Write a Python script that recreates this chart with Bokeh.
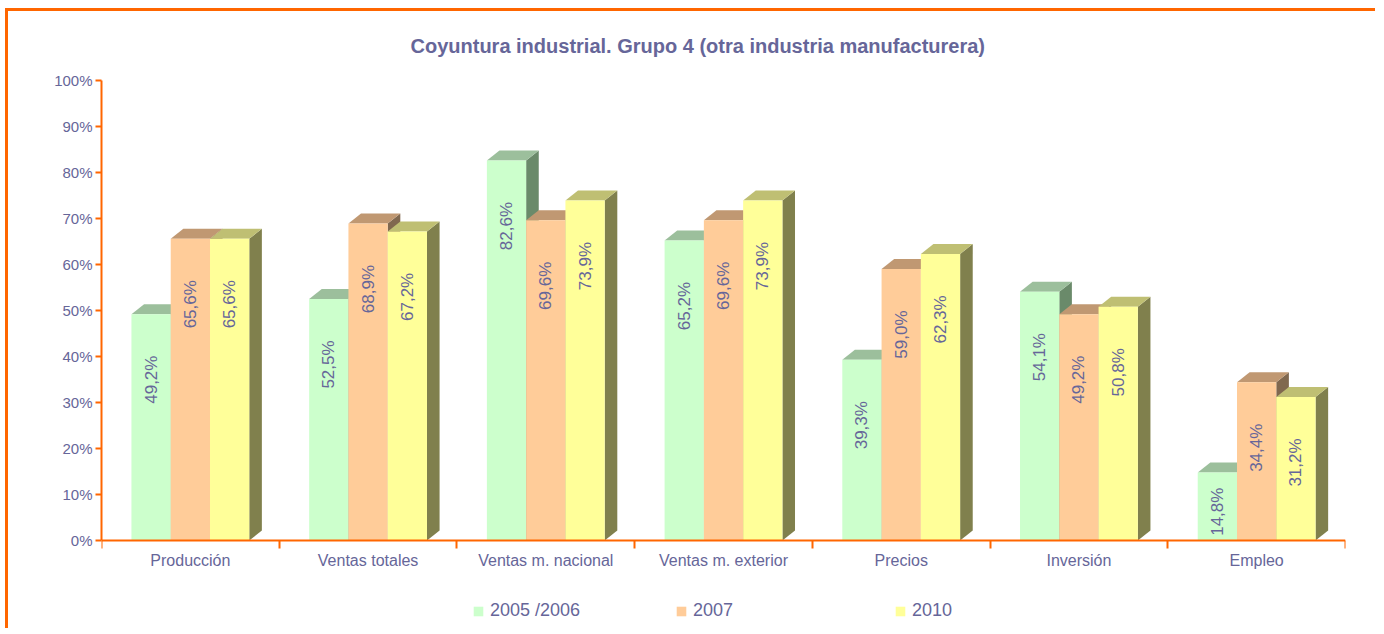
from bokeh.plotting import figure
from bokeh.models import FixedTicker, Legend, LegendItem, Range1d, ColumnDataSource
from bokeh.core.properties import value
from bokeh.embed import file_html
from bokeh.resources import INLINE

categories = ["Producción", "Ventas totales", "Ventas m. nacional", "Ventas m. exterior",
              "Precios", "Inversión", "Empleo"]
s2005 = [49.2, 52.5, 82.6, 65.2, 39.3, 54.1, 14.8]
s2007 = [65.6, 68.9, 69.6, 69.6, 59.0, 49.2, 34.4]
s2010 = [65.6, 67.2, 73.9, 73.9, 62.3, 50.8, 31.2]
series_names = ["2005 /2006", "2007", "2010"]
yticks = list(range(0, 101, 10))
ytick_labels = [f"{t}%" for t in yticks]

series = [s2005, s2007, s2010]
front_colors = ["#CCFFCC", "#FFCC99", "#FFFF99"]
top_colors = ["#9CBF9C", "#C09872", "#BFBF73"]
side_colors = ["#6A8A6A", "#80684F", "#80804D"]

TXT = "#666699"
AX = "#FF6600"
FONT = "Liberation Sans"

PX_PER_PCT = 4.6
y_low = -(91 / PX_PER_PCT)   # room below the axis for labels and legend

p = figure(width=1370, height=620, output_backend="svg", toolbar_location=None,
           x_range=Range1d(-0.5, len(categories) - 0.5), y_range=Range1d(y_low, 100),
           min_border_left=93, min_border_right=33, min_border_top=69, min_border_bottom=0,
           styles={"border-top": "3px solid #FF6600", "border-left": "3px solid #FF6600",
                   "margin-left": "5px", "margin-top": "8px"})
p.outline_line_color = None
p.grid.visible = False
p.background_fill_color = "white"

p.title.text = "Coyuntura industrial. Grupo 4 (otra industria manufacturera)"
p.title.align = "left"
p.title.offset = 309
p.title.standoff = 44
p.title.vertical_align = "top"
p.title.text_font = FONT
p.title.text_font_size = "20px"
p.title.text_font_style = "bold"
p.title.text_color = TXT

# axes
p.yaxis.ticker = FixedTicker(ticks=yticks)
p.yaxis.major_label_overrides = {t: l for t, l in zip(yticks, ytick_labels)}
p.yaxis.bounds = (0, 100)
p.yaxis.minor_tick_line_color = None
p.yaxis.major_tick_out = 6
p.yaxis.major_tick_in = 0
p.yaxis.major_label_standoff = 3
for ax in (p.xaxis, p.yaxis):
    ax.axis_line_color = AX
    ax.axis_line_width = 2
    ax.major_tick_line_color = AX
    ax.major_tick_line_width = 2
    ax.major_label_text_font = FONT
    ax.major_label_text_color = TXT
p.yaxis.major_label_text_font_size = "15px"
p.xaxis.major_label_text_font_size = "16px"

centers = list(range(len(categories)))
bounds = [c - 0.5 for c in centers] + [len(categories) - 0.5]
p.xaxis.fixed_location = 0
p.xaxis.ticker = FixedTicker(ticks=centers, minor_ticks=bounds)
p.xaxis.major_label_overrides = {c: n for c, n in zip(centers, categories)}
p.xaxis.major_tick_out = 0
p.xaxis.major_tick_in = 0
p.xaxis.minor_tick_line_color = AX
p.xaxis.minor_tick_line_width = 2
p.xaxis.minor_tick_out = 8
p.xaxis.minor_tick_in = 0
p.xaxis.major_label_standoff = 3

bw = 0.221                   # bar width in category units
dx = 12.6 / 177.7            # depth offset (x)
dy = 10 / PX_PER_PCT         # depth offset (y, in %)

front_renderers = []
for i, vals in enumerate(series):
    x0 = [c - 1.5 * bw + i * bw for c in centers]
    x1 = [a + bw for a in x0]
    side_xs = [[b, b + dx, b + dx, b] for b in x1]
    side_ys = [[0, dy, v + dy, v] for v in vals]
    top_xs = [[a, a + dx, b + dx, b] for a, b in zip(x0, x1)]
    top_ys = [[v, v + dy, v + dy, v] for v in vals]
    fr_xs = [[a, b, b, a] for a, b in zip(x0, x1)]
    fr_ys = [[0, 0, v, v] for v in vals]
    p.patches(side_xs, side_ys, fill_color=side_colors[i], line_color=None)
    p.patches(top_xs, top_ys, fill_color=top_colors[i], line_color=None)
    r = p.patches(fr_xs, fr_ys, fill_color=front_colors[i], line_color=None)
    front_renderers.append(r)
    labels = [f"{v:.1f}%".replace(".", ",") for v in vals]
    ly = [max(v - 9, 11.5) for v in vals]
    lx = [a + bw / 2 for a in x0]
    src = ColumnDataSource(dict(x=lx, y=ly, t=labels))
    p.text(x="x", y="y", text="t", source=src, angle=1.5708, text_align="right",
           text_baseline="middle", text_color=TXT, text_font=value(FONT),
           text_font_size="17px")

legend_x = [371, 574, 793]
for name, r, lx in zip(series_names, front_renderers, legend_x):
    lg = Legend(items=[LegendItem(label=name, renderers=[r])], location=(lx, 10),
                orientation="horizontal", glyph_width=12, glyph_height=12,
                label_standoff=6, padding=0, margin=0, border_line_color=None,
                background_fill_alpha=0, label_text_font=FONT,
                label_text_font_size="18px", label_text_color=TXT, label_height=20)
    p.add_layout(lg, "center")

open("out.html", "w").write(file_html(p, INLINE))
